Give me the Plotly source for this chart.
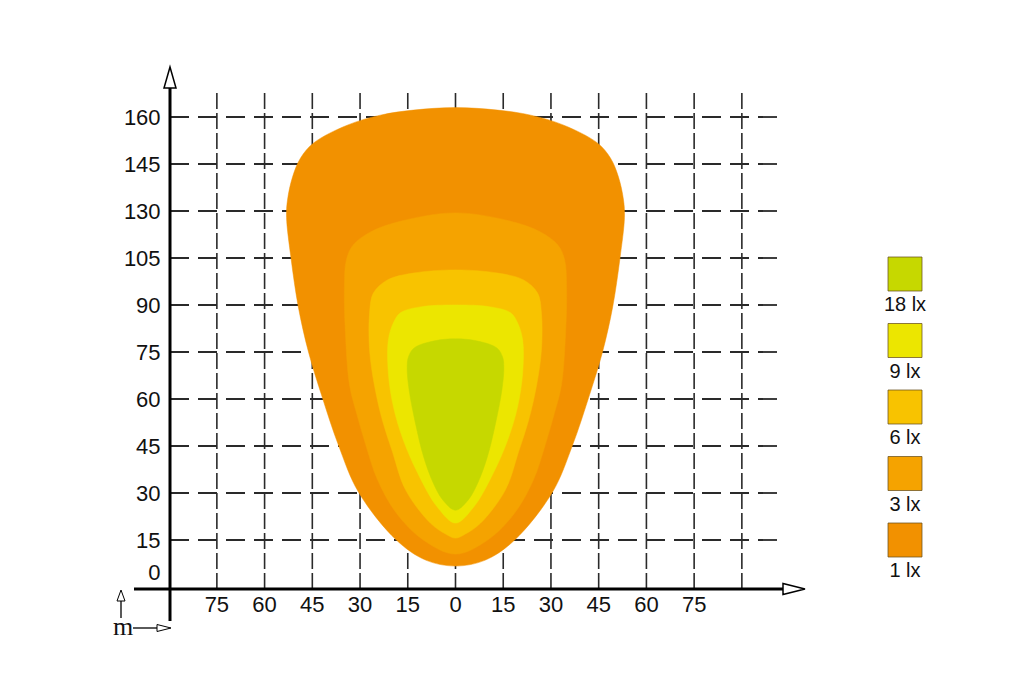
import plotly.graph_objects as go

# ---- data ----
X_TICKS = [-75, -60, -45, -30, -15, 0, 15, 30, 45, 60, 75]
X_TICK_TEXT = ["75", "60", "45", "30", "15", "0", "15", "30", "45", "60", "75"]
X_GRID = [-75, -60, -45, -30, -15, 0, 15, 30, 45, 60, 75, 90]

Y_TICKS = [0, 15, 30, 45, 60, 75, 90, 105, 120, 135, 150]
Y_TICK_TEXT = ["0<br> ", "15", "30", "45", "60", "75", "90", "105", "130", "145", "160"]

LUX_LEVELS = ["1 lx", "3 lx", "6 lx", "9 lx", "18 lx"]
LUX_COLORS = ["#F29100", "#F5A300", "#F8C300", "#ECE600", "#C6D800"]

# isolux outlines, left half from top centre down to bottom centre (beam is symmetric)
LX1_X = [0, -13.2, -23.6, -34, -44.6, -48.7, -51.2, -52.8, -53.1, -51.7, -49.4, -46.2, -41.8, -36.8,
         -30.5, -18.6, -9.4, 0]
LX1_Y = [153, 152.2, 150.6, 147.4, 141.7, 136.9, 130.9, 123.5, 118, 105, 89.4, 75, 60.3, 45.3,
         30.3, 15, 8.6, 6.7]

LX3_X = [0, -18.2, -26.7, -32.1, -34.3, -34.9, -34.6, -33.3, -31.1, -28, -24.5, -18.6, -10.1, 0]
LX3_Y = [119.4, 116.5, 113.3, 109.2, 104.4, 95.8, 81.1, 64.5, 55.5, 44.7, 34.2, 23.6, 15, 10.5]

LX6_X = [0, -13.2, -21.4, -25.8, -27, -27, -25.5, -23, -19.8, -15.7, -7.9, -3.1, 0]
LX6_Y = [101.2, 100.2, 98, 93.8, 87.5, 75.6, 64.5, 53.3, 43.1, 31, 20.4, 16.9, 15.6]

LX9_X = [0, -11, -17.3, -19.5, -21.1, -21.1, -19.5, -16.4, -11.9, -5.7, 0]
LX9_Y = [90, 89.4, 87.5, 84.3, 78.8, 68.3, 57.5, 46.9, 36.4, 25.5, 20.4]

LX18_X = [0, -6.5, -13, -14.8, -15.2, -14.6, -12.6, -10, -7, -4, 0]
LX18_Y = [79.2, 78.6, 76.3, 73.4, 70, 63, 52.3, 41.5, 33.2, 27.8, 24.5]

# ---- layout geometry (pixels of the 1024x677 page) ----
W, H = 1024, 677
X0_PX, X_SCALE = 455.5, 3.1818   # px of x=0, px per metre
Y0_PX, Y_SCALE = 587.0, 3.1333
DOM_L, DOM_R, DOM_T, DOM_B = 100, 840, 50, 650


def dx(p):
    return (p - X0_PX) / X_SCALE


def dy(p):
    return (Y0_PX - p) / Y_SCALE


AXIS_X = dx(170)
GRID_TOP = dy(92)
GRID_RIGHT = dx(780)

fig = go.Figure()

# dashed grid
vx, vy = [], []
for g in X_GRID:
    vx += [g, g, None]
    vy += [dy(589), GRID_TOP, None]
fig.add_trace(go.Scatter(x=vx, y=vy, mode="lines", hoverinfo="skip", showlegend=False,
                         line=dict(color="#2a2a2a", width=1.6, dash="16px,4px")))
hx, hy = [], []
for t in Y_TICKS[1:]:
    hx += [AXIS_X, GRID_RIGHT, None]
    hy += [t, t, None]
fig.add_trace(go.Scatter(x=hx, y=hy, mode="lines", hoverinfo="skip", showlegend=False,
                         line=dict(color="#2a2a2a", width=1.8, dash="19px,9px")))

# isolux areas, outermost first
for name, color, xs, ys in zip(LUX_LEVELS, LUX_COLORS,
                               [LX1_X, LX3_X, LX6_X, LX9_X, LX18_X],
                               [LX1_Y, LX3_Y, LX6_Y, LX9_Y, LX18_Y]):
    px_ = xs + [-v for v in xs[-2:0:-1]] + [xs[0]]
    py_ = ys + ys[-2:0:-1] + [ys[0]]
    fig.add_trace(go.Scatter(x=px_, y=py_, mode="lines", fill="toself", fillcolor=color,
                             line=dict(color=color, width=0.5, shape="spline", smoothing=1),
                             name=name, hoverinfo="name", showlegend=False))

# legend squares with labels underneath
fig.add_trace(go.Scatter(x=[0] * len(LUX_LEVELS), y=list(range(len(LUX_LEVELS))),
                         mode="markers+text", text=LUX_LEVELS, textposition="bottom center",
                         marker=dict(symbol="square", size=34, color=LUX_COLORS,
                                     line=dict(color="rgba(105,80,30,0.75)", width=1)),
                         textfont=dict(size=20, color="#111111",
                                       family="Liberation Sans, Arial, sans-serif"),
                         xaxis="x2", yaxis="y2", hoverinfo="skip", showlegend=False))


def tri(points):
    p = [f"{dx(a):.3f},{dy(b):.3f}" for a, b in points]
    return f"M {p[0]} L {p[1]} L {p[2]} Z"


shapes = [
    # y axis and arrow
    dict(type="line", x0=AXIS_X, x1=AXIS_X, y0=dy(621), y1=dy(88), line=dict(color="black", width=3)),
    dict(type="path", path=tri([(170, 67), (164, 88), (176, 88)]),
         fillcolor="white", line=dict(color="black", width=1.5)),
    # x axis and arrow
    dict(type="line", x0=dx(134), x1=dx(783), y0=dy(589), y1=dy(589), line=dict(color="black", width=3)),
    dict(type="path", path=tri([(805, 589), (783, 583.5), (783, 594.5)]),
         fillcolor="white", line=dict(color="black", width=1.5)),
    # small unit arrows next to "m"
    dict(type="line", x0=dx(121), x1=dx(121), y0=dy(618), y1=dy(601), line=dict(color="black", width=1.3)),
    dict(type="path", path=tri([(121, 590), (117, 601), (125, 601)]),
         fillcolor="white", line=dict(color="black", width=1)),
    dict(type="line", x0=dx(133), x1=dx(157), y0=dy(628), y1=dy(628), line=dict(color="black", width=1.3)),
    dict(type="path", path=tri([(171, 628), (157, 624.5), (157, 631.5)]),
         fillcolor="white", line=dict(color="black", width=1)),
]
for s in shapes:
    s["xref"] = "x"
    s["yref"] = "y"
    s["layer"] = "above"

tick_font = dict(size=22, color="#111111", family="Liberation Sans, Arial, sans-serif")

fig.update_layout(
    width=W, height=H,
    margin=dict(l=0, r=0, t=0, b=0),
    paper_bgcolor="white", plot_bgcolor="white",
    showlegend=False,
    shapes=shapes,
    annotations=[dict(x=dx(123), y=dy(626), xref="x", yref="y", text="m", showarrow=False,
                      font=dict(size=26, color="#111111", family="Liberation Serif, Times New Roman, serif"))],
    xaxis=dict(domain=[DOM_L / W, DOM_R / W], range=[dx(DOM_L), dx(DOM_R)],
               tickmode="array", tickvals=X_TICKS, ticktext=X_TICK_TEXT,
               anchor="free", position=(H - 589) / H,
               showgrid=False, zeroline=False, showline=False,
               ticks="", tickfont=tick_font, fixedrange=True),
    yaxis=dict(domain=[(H - DOM_B) / H, (H - DOM_T) / H], range=[dy(DOM_B), dy(DOM_T)],
               tickmode="array", tickvals=Y_TICKS, ticktext=Y_TICK_TEXT,
               anchor="free", position=170 / W,
               showgrid=False, zeroline=False, showline=False,
               ticks="outside", ticklen=5, tickcolor="rgba(0,0,0,0)", tickfont=tick_font,
               fixedrange=True),
    xaxis2=dict(domain=[860 / W, 950 / W], range=[-1, 1], visible=False, fixedrange=True),
    yaxis2=dict(domain=[(H - DOM_B) / H, (H - DOM_T) / H],
                range=[-(DOM_B - 540) / 66.5, (540 - DOM_T) / 66.5],
                anchor="x2", visible=False, fixedrange=True),
)

fig.write_html("out.html", config={"displayModeBar": False},
               post_script="document.body.style.margin='0px';")
